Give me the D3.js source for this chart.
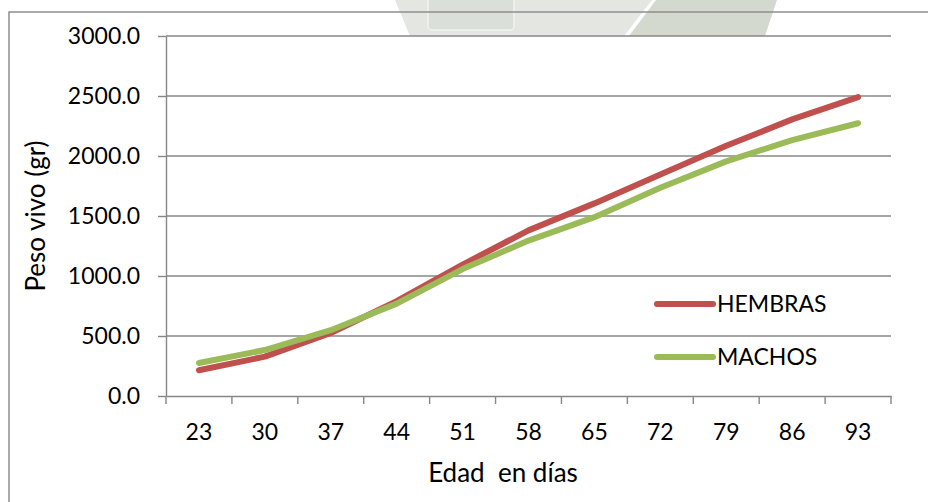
<!DOCTYPE html>
<html><head><meta charset="utf-8">
<script src="https://cdn.jsdelivr.net/npm/d3@7"></script>
<style>
html,body{margin:0;padding:0;background:#fff;}
svg{display:block;}
text{font-family:Lato,"Open Sans",sans-serif;fill:#000;}
</style></head>
<body>
<svg id="chart" width="928" height="502"></svg>
<script>
const categories = ["23","30","37","44","51","58","65","72","79","86","93"];
const hembras = [215, 328, 525, 790, 1095, 1380, 1605, 1845, 2085, 2305, 2490];
const machos  = [275, 383, 548, 770, 1058, 1295, 1490, 1735, 1955, 2133, 2273];
const yTicks = [0, 500, 1000, 1500, 2000, 2500, 3000];
const seriesNames = ["HEMBRAS", "MACHOS"];
const seriesColors = ["#C0504D", "#9BBB59"];

(function () {
const svg = d3.select("#chart");
const pL = 166, pR = 891, pT = 36, pB = 396;
const gridColor = "#878787";

// faint watermark at the top
svg.append("path").attr("d","M395,0 L652,0 L624,36 L410,36 Z").attr("fill","#e3e6e1");
svg.append("path").attr("d","M656,0 L777,0 L765,36 L629,36 Z").attr("fill","#d4d9d0");
svg.append("rect").attr("x",428).attr("y",-4).attr("width",86).attr("height",34).attr("rx",4)
  .attr("fill","#dadfd7").attr("stroke","#f2f3f1").attr("stroke-width",1.5);

// chart border (left & top visible)
svg.append("path").attr("d","M9,502 L9,12 L928,12").attr("fill","none")
  .attr("stroke","#8e8e8e").attr("stroke-width",1.5);

// plot area
svg.append("rect").attr("x",pL).attr("y",pT).attr("width",pR-pL).attr("height",pB-pT).attr("fill","#fff");

const x = d3.scaleBand().domain(categories).range([pL, pR]).padding(0);
const y = d3.scaleLinear().domain([0, 3000]).range([pB, pT]);
const cx = c => x(c) + x.bandwidth()/2;

// gridlines
svg.append("g").selectAll("line").data(yTicks.filter(v => v > 0)).join("line")
  .attr("x1", pL).attr("x2", pR).attr("y1", d => y(d)).attr("y2", d => y(d))
  .attr("stroke", gridColor).attr("stroke-width", 1.4);

// y axis
const yAxis = svg.append("g").attr("transform", `translate(${pL},0)`)
  .call(d3.axisLeft(y).tickValues(yTicks).tickFormat(d3.format(".1f")).tickSize(8).tickSizeOuter(0).tickPadding(18));
yAxis.select(".domain").attr("stroke", gridColor).attr("stroke-width", 1.4);
yAxis.selectAll(".tick line").attr("stroke", gridColor).attr("stroke-width", 1.4);
yAxis.selectAll("text").attr("font-size", 23).attr("font-family", "Lato").attr("fill", "#000");

// x axis
const xAxis = svg.append("g").attr("transform", `translate(0,${pB})`)
  .call(d3.axisBottom(x).tickSize(0).tickPadding(28));
xAxis.select(".domain").attr("stroke", gridColor).attr("stroke-width", 1.4);
xAxis.selectAll("text").attr("font-size", 23).attr("font-family", "Lato").attr("fill", "#000");
const bounds = categories.map(c => x(c)).concat([x(categories[categories.length-1]) + x.bandwidth()]);
xAxis.append("g").selectAll("line").data(bounds).join("line")
  .attr("x1", d => d).attr("x2", d => d).attr("y1", 0).attr("y2", 8)
  .attr("stroke", gridColor).attr("stroke-width", 1.4);

// series lines
const line = d3.line().x((d, i) => cx(categories[i])).y(d => y(d)).curve(d3.curveLinear);
[hembras, machos].forEach((s, k) => {
  svg.append("path").datum(s).attr("d", line).attr("fill", "none")
    .attr("stroke", seriesColors[k]).attr("stroke-width", 6)
    .attr("stroke-linecap", "round").attr("stroke-linejoin", "round");
});

// legend
const legY = [304, 357];
seriesNames.forEach((n, k) => {
  svg.append("line").attr("x1", 657).attr("x2", 713).attr("y1", legY[k]).attr("y2", legY[k])
    .attr("stroke", seriesColors[k]).attr("stroke-width", 6).attr("stroke-linecap", "round");
  svg.append("text").attr("x", 717).attr("y", legY[k]).attr("dy", "0.36em")
    .attr("font-size", 23).text(n);
});

// axis titles
svg.append("text").attr("x", 503).attr("y", 482).attr("text-anchor", "middle")
  .attr("font-size", 26).style("white-space", "pre").text("Edad  en días");
svg.append("text").attr("transform", `translate(45,${(pT+pB)/2}) rotate(-90)`)
  .attr("text-anchor", "middle").attr("font-size", 26).text("Peso vivo (gr)");
})();
</script>
</body></html>
